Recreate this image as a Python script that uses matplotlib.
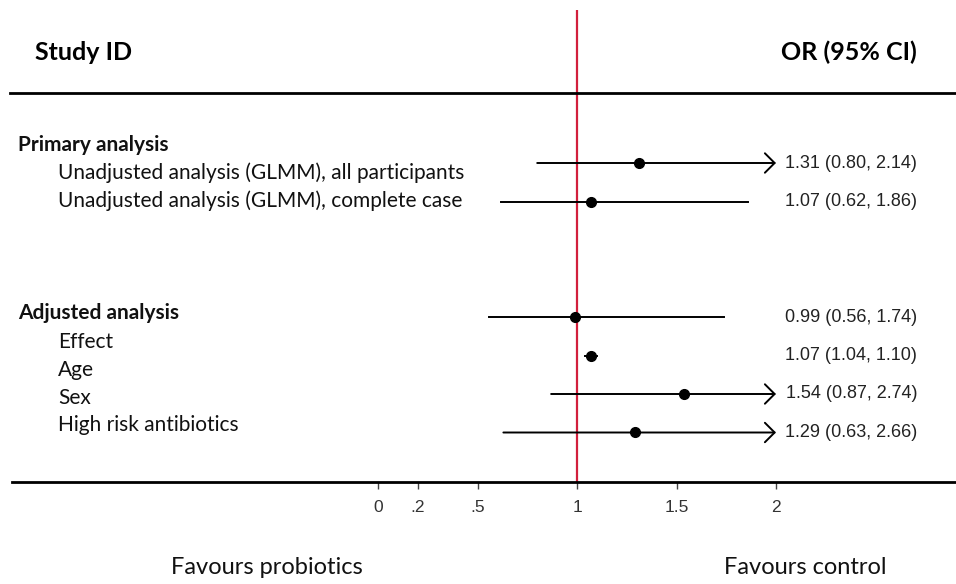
import numpy as np
import matplotlib.pyplot as plt

W, H = 956, 584

# Data
study_labels = ["Unadjusted analysis (GLMM), all participants",
                "Unadjusted analysis (GLMM), complete case",
                "Effect", "Age", "Sex", "High risk antibiotics"]
group_labels = ["Primary analysis", "Adjusted analysis"]
odds_ratio = [1.31, 1.07, 0.99, 1.07, 1.54, 1.29]
ci_low = [0.80, 0.62, 0.56, 1.04, 0.87, 0.63]
ci_high = [2.14, 1.86, 1.74, 1.10, 2.74, 2.66]
est_rows = [0, 1, 4, 5, 6, 7]   # row index of each estimate on the plot
xticks = [0, 0.2, 0.5, 1, 1.5, 2]
xticklabels = ['0', '.2', '.5', '1', '1.5', '2']
x_max = 2.0   # CIs beyond this get an arrow

label_font = 'Lato'
num_font = 'Liberation Sans'
red = '#d21f3c'

def fx(px):
    return px / W

def fy(py):
    return 1 - py / H

fig = plt.figure(figsize=(W / 100, H / 100), dpi=100)
# axes spans pixel x 12..956, y 10..482 ; 1 -> 577px, 199px per unit, rows 38.5px apart from 163px
ax = fig.add_axes([fx(12), fy(482), fx(956 - 12), (482 - 10) / H])
ax.set_xlim(1 + (12 - 577) / 199, 1 + (956 - 577) / 199)
ax.set_ylim((482 - 163) / 38.5, (10 - 163) / 38.5)

for s in ['top', 'left', 'right']:
    ax.spines[s].set_visible(False)
ax.spines['bottom'].set_linewidth(2.0)
ax.set_yticks([])
ax.set_xticks(xticks)
ax.set_xticklabels(xticklabels, fontfamily=num_font, fontsize=12.5, color='#333333')
ax.tick_params(axis='x', length=5, width=1, direction='out', pad=8, color='#444444')

# header rule
ax.axhline((93 - 163) / 38.5, xmin=-2 / 944, xmax=1, color='black', lw=2.0, clip_on=False)
# line of no effect
ax.axvline(1, color=red, lw=1.6, zorder=1)

for r, est, lo, hi in zip(est_rows, odds_ratio, ci_low, ci_high):
    if hi > x_max:
        ax.annotate('', xy=(x_max, r), xytext=(lo, r),
                    arrowprops=dict(arrowstyle='->,head_length=0.7,head_width=0.7',
                                    lw=1.4, color='black', shrinkA=0, shrinkB=0))
    else:
        ax.plot([lo, hi], [r, r], color='black', lw=1.4, zorder=2)
    ax.plot(est, r, 'o', color='black', ms=7, zorder=3)
    fig.text(fx(917), fy(163 + 38.5 * r), '%.2f (%.2f, %.2f)' % (est, lo, hi),
             ha='right', va='center', fontfamily=num_font, fontsize=13, color='#222222')

# left column labels (positions as in the original layout)
label_y = [173, 201, 342, 370, 398, 425]
group_y = [145, 313]
for g, y in zip(group_labels, group_y):
    fig.text(fx(18), fy(y), g, ha='left', va='center', fontfamily=label_font,
             fontsize=15, fontweight='bold', color='#111111')
for lab, y in zip(study_labels, label_y):
    fig.text(fx(58), fy(y), lab, ha='left', va='center', fontfamily=label_font,
             fontsize=15, color='#111111')

fig.text(fx(35), fy(52), 'Study ID', ha='left', va='center', fontfamily=label_font,
         fontsize=18, fontweight='bold', color='black')
fig.text(fx(917), fy(52), 'OR (95% CI)', ha='right', va='center', fontfamily=label_font,
         fontsize=18, fontweight='bold', color='black')

fig.text(fx(267), fy(567), 'Favours probiotics', ha='center', va='center',
         fontfamily=label_font, fontsize=17, color='#111111')
fig.text(fx(805), fy(567), 'Favours control', ha='center', va='center',
         fontfamily=label_font, fontsize=17, color='#111111')

fig.savefig('out.png', dpi=100)
